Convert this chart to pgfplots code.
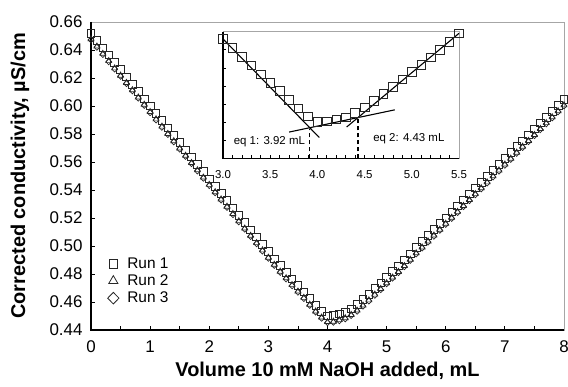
\documentclass[border=0pt]{standalone}
\usepackage{fontspec}
\setmainfont{Liberation Sans}
\usepackage{pgfplots}
\usepackage{pgfplotstable}
\pgfplotsset{compat=1.18}

\pgfplotstableread{
x r1 r2 r3
0.0 0.6520 0.6478 0.6472
0.1 0.6468 0.6426 0.6420
0.2 0.6416 0.6374 0.6368
0.3 0.6364 0.6322 0.6316
0.4 0.6312 0.6270 0.6264
0.5 0.6260 0.6218 0.6212
0.6 0.6208 0.6166 0.6160
0.7 0.6156 0.6114 0.6108
0.8 0.6104 0.6062 0.6056
0.9 0.6052 0.6010 0.6004
1.0 0.6000 0.5958 0.5952
1.1 0.5948 0.5906 0.5900
1.2 0.5896 0.5854 0.5848
1.3 0.5844 0.5802 0.5796
1.4 0.5792 0.5750 0.5744
1.5 0.5740 0.5698 0.5692
1.6 0.5688 0.5646 0.5640
1.7 0.5636 0.5594 0.5588
1.8 0.5584 0.5542 0.5536
1.9 0.5532 0.5490 0.5484
2.0 0.5480 0.5438 0.5432
2.1 0.5428 0.5386 0.5380
2.2 0.5376 0.5334 0.5328
2.3 0.5324 0.5282 0.5276
2.4 0.5272 0.5230 0.5224
2.5 0.5220 0.5178 0.5172
2.6 0.5168 0.5126 0.5120
2.7 0.5116 0.5074 0.5068
2.8 0.5064 0.5022 0.5016
2.9 0.5012 0.4970 0.4964
3.0 0.4960 0.4918 0.4912
3.1 0.4909 0.4867 0.4861
3.2 0.4860 0.4818 0.4812
3.3 0.4813 0.4771 0.4765
3.4 0.4764 0.4722 0.4716
3.5 0.4718 0.4676 0.4670
3.6 0.4673 0.4631 0.4625
3.7 0.4624 0.4582 0.4576
3.8 0.4576 0.4534 0.4528
3.9 0.4532 0.4490 0.4484
4.0 0.4500 0.4458 0.4452
4.1 0.4503 0.4461 0.4455
4.2 0.4514 0.4472 0.4466
4.3 0.4527 0.4485 0.4479
4.4 0.4551 0.4509 0.4503
4.5 0.4582 0.4540 0.4534
4.6 0.4618 0.4576 0.4570
4.7 0.4655 0.4613 0.4607
4.8 0.4696 0.4654 0.4648
4.9 0.4736 0.4694 0.4688
5.0 0.4778 0.4736 0.4730
5.1 0.4818 0.4776 0.4770
5.2 0.4858 0.4816 0.4810
5.3 0.4900 0.4858 0.4852
5.4 0.4945 0.4903 0.4897
5.5 0.4991 0.4949 0.4943
5.6 0.5033 0.4991 0.4985
5.7 0.5076 0.5034 0.5028
5.8 0.5118 0.5076 0.5070
5.9 0.5160 0.5118 0.5112
6.0 0.5202 0.5160 0.5154
6.1 0.5245 0.5203 0.5197
6.2 0.5287 0.5245 0.5239
6.3 0.5329 0.5287 0.5281
6.4 0.5372 0.5330 0.5324
6.5 0.5414 0.5372 0.5366
6.6 0.5456 0.5414 0.5408
6.7 0.5498 0.5456 0.5450
6.8 0.5541 0.5499 0.5493
6.9 0.5583 0.5541 0.5535
7.0 0.5625 0.5583 0.5577
7.1 0.5667 0.5625 0.5619
7.2 0.5710 0.5668 0.5662
7.3 0.5752 0.5710 0.5704
7.4 0.5794 0.5752 0.5746
7.5 0.5836 0.5794 0.5788
7.6 0.5879 0.5837 0.5831
7.7 0.5921 0.5879 0.5873
7.8 0.5963 0.5921 0.5915
7.9 0.6006 0.5964 0.5958
8.0 0.6048 0.6006 0.6000
}\runs

\begin{document}
\begin{tikzpicture}
\path[use as bounding box] (-91bp,-57bp) rectangle (477bp,330bp);
\begin{axis}[
  at={(0,0)}, anchor=south west,
  scale only axis, width=473bp, height=308bp,
  xmin=0, xmax=8, ymin=0.44, ymax=0.66,
  xtick={0,1,2,3,4,5,6,7,8}, minor x tick num=1,
  ytick={0.44,0.46,0.48,0.50,0.52,0.54,0.56,0.58,0.60,0.62,0.64,0.66},
  tick pos=left, tick align=inside,
  major tick length=4bp, minor tick length=4bp,
  every tick/.style={black, line width=0.8bp},
  /pgf/number format/assume math mode=true,
  ticklabel style={font=\fontsize{17}{20}\selectfont},
  yticklabel style={/pgf/number format/.cd, fixed, fixed zerofill, precision=2, /tikz/.cd, xshift=-5bp},
  xticklabel style={yshift=-7bp},
  axis line style={draw=gray!70, line width=0.8bp},
  every axis x label/.style={at={(axis description cs:0.5,0)}, yshift=-41bp, anchor=center,
     font=\bfseries\fontsize{20}{24}\selectfont},
  every axis y label/.style={at={(axis description cs:0,0.5)}, xshift=-71bp, anchor=center, rotate=90,
     font=\bfseries\fontsize{20}{24}\selectfont},
  xlabel={Volume 10 mM NaOH added, mL},
  ylabel={Corrected conductivity, µS/cm},
  clip=false,
  legend cell align=left,
  legend style={at={(axis description cs:0.032,0.242)}, anchor=north west, draw=none, fill=none,
     font=\fontsize{15.5}{18}\selectfont, row sep=1bp, inner sep=0pt},
  legend image code/.code={\path[draw=none,fill=none] (0bp,0bp) (19bp,0bp); \draw[#1] plot coordinates {(7bp,0bp)};},
]
\addlegendimage{only marks, mark=square, mark size=4.2bp, mark options={draw=black!85, line width=0.8bp}}
\addlegendentry{Run 1}
\addlegendimage{only marks, mark=triangle, mark size=5.3bp, mark options={draw=black!85, line width=0.8bp}}
\addlegendentry{Run 2}
\addlegendimage{only marks, mark=diamond, mark size=5.8bp, mark options={draw=black!85, line width=0.8bp, xscale=1.3}}
\addlegendentry{Run 3}
\addplot[forget plot, only marks, mark=square, mark size=3.8bp, mark options={draw=black!85, line width=0.7bp}] table[x=x, y=r1] {\runs};
\addplot[forget plot, only marks, mark=triangle, mark size=3.4bp, mark options={draw=black!85, line width=0.7bp}] table[x=x, y=r2] {\runs};
\addplot[forget plot, only marks, mark=diamond, mark size=3bp, mark options={draw=black!85, line width=0.7bp, xscale=1.3}] table[x=x, y=r3] {\runs};
\draw[black, line width=1.2bp] (rel axis cs:0,1) -- (rel axis cs:0,0) -- (rel axis cs:1,0);
\end{axis}

\begin{axis}[
  at={(132bp,171.7bp)}, anchor=south west,
  scale only axis, width=236bp, height=126.6bp,
  xmin=3, xmax=5.5, ymin=0.43, ymax=0.50,
  xtick={3,3.5,4,4.5,5,5.5}, minor x tick num=4,
  ytick={0.44,0.45,0.46,0.47,0.48,0.49}, yticklabels={},
  tick pos=left, tick align=inside,
  major tick length=3bp, minor tick length=3bp,
  every tick/.style={black, line width=0.7bp},
  /pgf/number format/assume math mode=true,
  ticklabel style={font=\fontsize{11.5}{14}\selectfont},
  xticklabel style={/pgf/number format/.cd, fixed, fixed zerofill, precision=1, /tikz/.cd, yshift=-9bp},
  axis line style={draw=gray!70, line width=0.8bp},
  clip=false,
]
\addplot[only marks, mark=square, mark size=4.3bp, mark options={draw=black!85, line width=0.8bp},
  restrict x to domain=2.95:5.55] table[x=x, y=r1] {\runs};
\addplot[black, line width=1.1bp] coordinates {(3.0,0.4960) (4.02,0.4415)};
\addplot[black, line width=1.1bp] coordinates {(3.70,0.4445) (4.82,0.4568)};
\addplot[black, line width=1.1bp] coordinates {(4.31,0.4473) (5.5,0.4991)};
\addplot[black, line width=1.1bp, dash pattern=on 4bp off 3bp] coordinates {(3.92,0.43) (3.92,0.4460)};
\addplot[black, line width=1.1bp, dash pattern=on 4bp off 3bp] coordinates {(4.43,0.43) (4.43,0.4520)};
\node[anchor=east, inner sep=0pt, font=\fontsize{11.5}{14}\selectfont] at (axis cs:3.87,0.4392) {eq 1: 3.92 mL};
\node[anchor=west, inner sep=0pt, font=\fontsize{11.5}{14}\selectfont] at (axis cs:4.59,0.4411) {eq 2: 4.43 mL};
\draw[black, line width=1.1bp] (rel axis cs:0,1) -- (rel axis cs:0,0) -- (rel axis cs:1,0);
\end{axis}
\end{tikzpicture}
\end{document}
